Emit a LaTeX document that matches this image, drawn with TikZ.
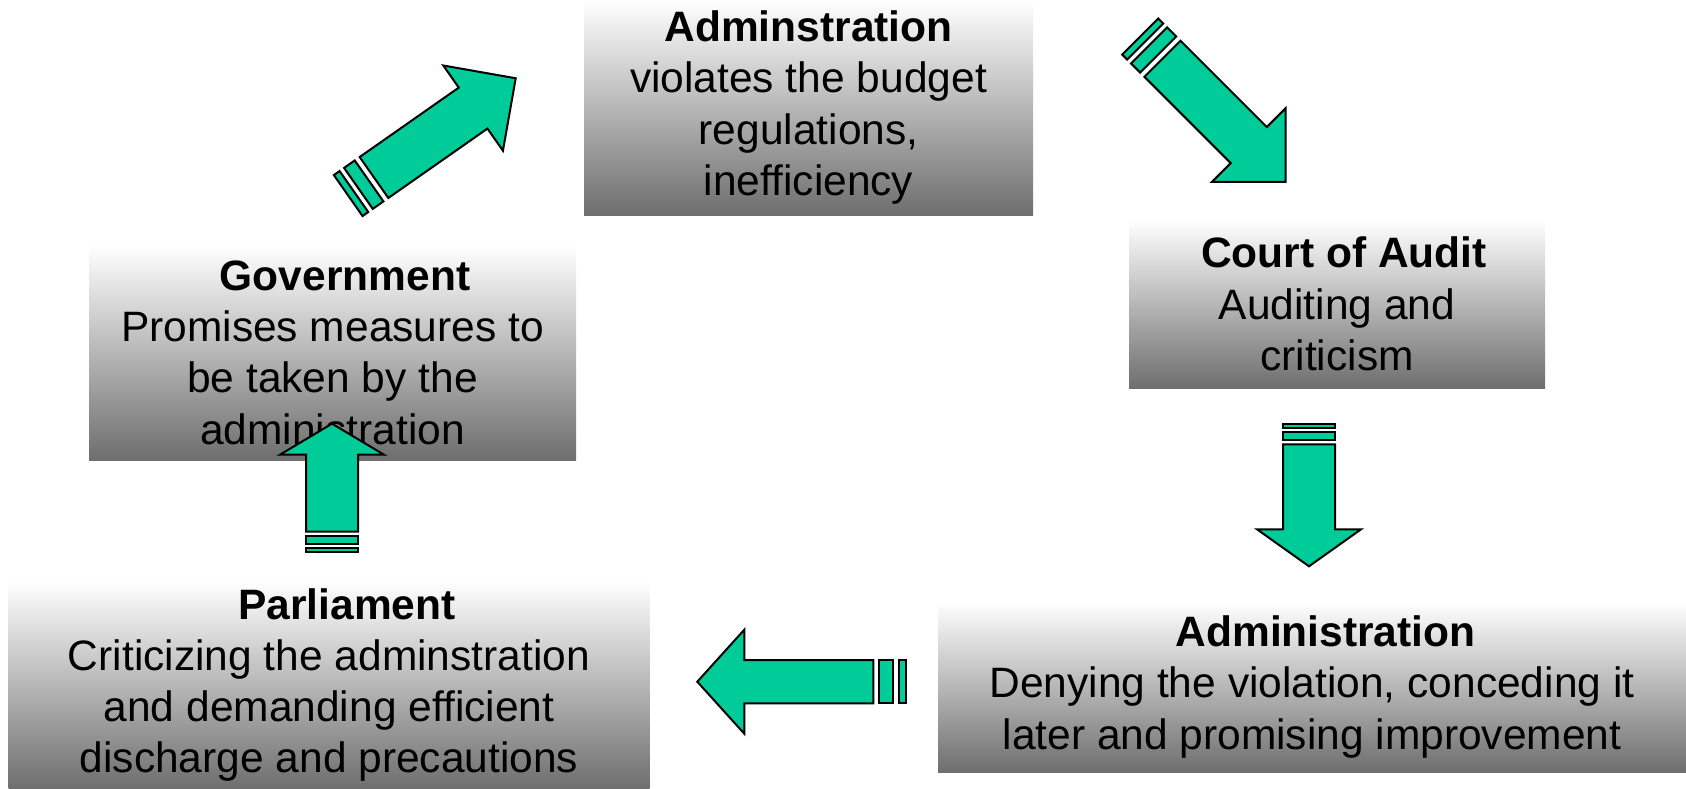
\documentclass[tikz,border=0pt]{standalone}
\usepackage{fontspec}
\setmainfont{Liberation Sans}
\usepackage{xcolor}
\usepackage{tikz}
\definecolor{arrowgreen}{RGB}{0,204,153}
\definecolor{boxgray}{RGB}{110,110,110}

\begin{document}
\begin{tikzpicture}[x=1pt, y=-1pt, every node/.style={font=\fontsize{42.5}{51.3}\selectfont}]

  \tikzstyle{box}=[inner sep=0, align=center, top color=white, bottom color=boxgray]
  \tikzstyle{arrowbody}=[fill=arrowgreen, draw=black, line width=2pt]

  \tikzset{
    pics/stripedarrow/.style args={#1/#2/#3/#4}{code={
      \draw [arrowbody] (0,-#2) -- (#1,-#2) -- (#1,-52) -- ({#1+#3},0)
        -- (#1,52) -- (#1,#2) -- (0,#2) -- cycle;
      \draw [arrowbody] ({-6*#4},-#2) rectangle ({-19*#4},#2);
      \draw [arrowbody] ({-24.5*#4},-#2) rectangle ({-31.5*#4},#2);
    }}
  }

  \useasboundingbox (0,0) rectangle (1686,789);

  \node [box, minimum width=449, minimum height=215] (adm) at (808.5,107.5)
    {\textbf{Adminstration}\\ violates the budget\\ regulations,\\ inefficiency};
  \node [box, minimum width=416, minimum height=168] (court) at (1337,304)
    {\hspace*{14pt}\textbf{Court of Audit}\\ Auditing and\\ criticism};
  \node [box, minimum width=748, minimum height=170] (adm-2) at (1312,687)
    {\hspace*{27pt}\textbf{Administration}\\ Denying the violation, conceding it\\ later and promising improvement};
  \node [box, minimum width=641, minimum height=208] (parl) at (329,685)
    {\hspace*{36pt}\textbf{Parliament}\\ Criticizing the adminstration\\ and demanding efficient\\ discharge and precautions};
  \node [box, minimum width=487, minimum height=215] (gov) at (332.5,352.5)
    {\hspace*{25pt}\textbf{Government}\\ Promises measures to\\ be taken by the\\ administration};

  % cycle arrows
  \pic [rotate=35] at (374,177.5) {stripedarrow={121/25/52/1}};
  \pic [rotate=-45] at (1162.5,58.8) {stripedarrow={122/25.5/52/1}};
  \pic [rotate=-90] at (1309,444.3) {stripedarrow={85/26/37/0.65}};
  \pic [rotate=180] at (873.3,681.7) {stripedarrow={129/21.7/47/1.03}};
  \pic [rotate=90] at (332,531.7) {stripedarrow={77/26/31/0.65}};
\end{tikzpicture}
\end{document}
